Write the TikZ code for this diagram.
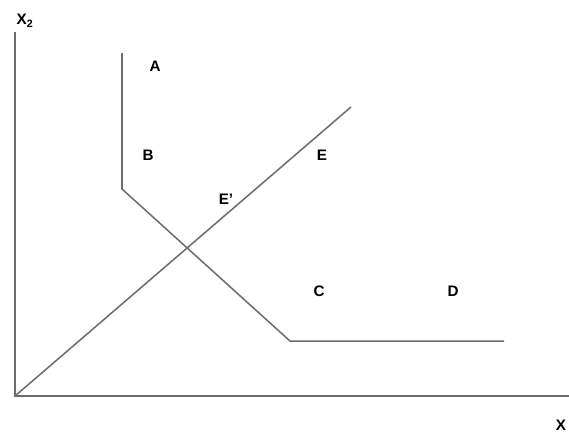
\documentclass[tikz,border=0pt]{standalone}
\usepackage{fontspec}
\setmainfont{Liberation Sans}
\usetikzlibrary{positioning}

\begin{document}
\begin{tikzpicture}[x=0.03cm,y=-0.03cm]
 \tikzset{curve/.style={draw=gray!85!black,line width=1.3pt},
  lbl/.style={font=\fontsize{13}{15}\selectfont\bfseries,inner sep=0pt}}
 \useasboundingbox (0,0) rectangle (569,434);
 \draw[curve](15,32)--(15,396)--(569,396); 
 \draw[curve](122,53)--(122,189)--(290,341)--(504,341); 
 \draw[curve](15,396)--(351,107); 
 \node[lbl] (x2) at (25,21) {X\textsubscript{2}};
 \node[lbl] (x1) at (561,425) {X};
 \node[lbl] (a) at (155,66) {A};
 \node[lbl] (b) at (148,155) {B};
 \node[lbl] (e) at (322,155) {E};
 \node[lbl] (ep) at (226,199) {E'};
 \node[lbl] (c) at (319,291) {C};
 \node[lbl] (d) at (453,291) {D};
\end{tikzpicture}
\end{document}
